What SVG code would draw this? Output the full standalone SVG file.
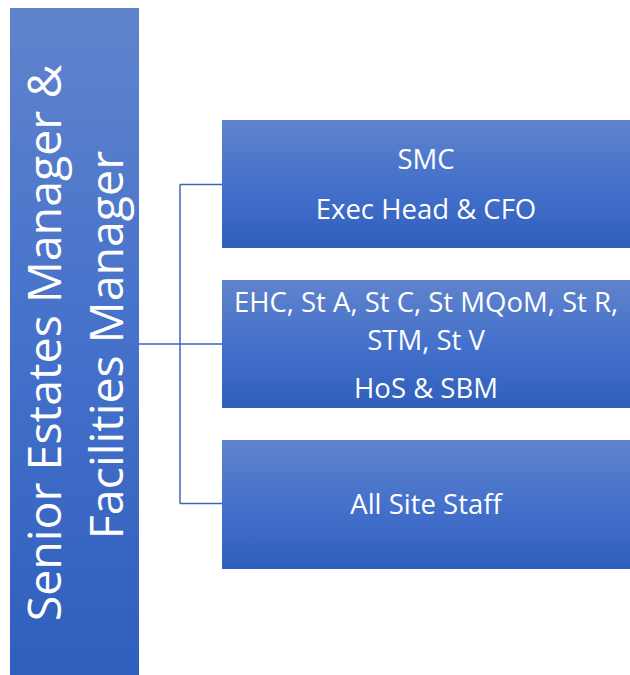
<svg xmlns="http://www.w3.org/2000/svg" width="630" height="675" viewBox="0 0 630 675">
  <defs>
    <linearGradient id="fillBlue" x1="0" y1="0" x2="0" y2="1">
      <stop offset="0" stop-color="#6083cc"/>
      <stop offset="0.5" stop-color="#4571cb"/>
      <stop offset="1" stop-color="#2f5fbc"/>
    </linearGradient>
  </defs>
  <style>
    .box { fill: url(#fillBlue); }
    .lbl { fill: #ffffff; font-family: "Open Sans", "Noto Sans", "DejaVu Sans", sans-serif; font-size: 27.5px; text-anchor: middle; dominant-baseline: central; }
    .big { fill: #ffffff; font-family: "Open Sans", "Noto Sans", "DejaVu Sans", sans-serif; font-size: 46.5px; text-anchor: middle; }
    .link { fill: none; stroke: #3c64b1; stroke-width: 1.5; }
  </style>

  <g id="connectors">
    <path class="link" d="M139 344 H222"/>
    <path class="link" d="M180 184.5 V503.5"/>
    <path class="link" d="M180 184.5 H222"/>
    <path class="link" d="M180 503.5 H222"/>
  </g>

  <g id="senior-manager">
    <rect class="box" x="10" y="8" width="129" height="667"/>
    <text class="big" transform="translate(61 343) rotate(-90)" x="0" y="0">Senior Estates Manager &amp;</text>
    <text class="big" transform="translate(123 345) rotate(-90)" x="0" y="0">Facilities Manager</text>
  </g>

  <g id="smc">
    <rect class="box" x="222" y="120" width="408" height="128"/>
    <text class="lbl" x="426" y="158">SMC</text>
    <text class="lbl" x="426" y="208">Exec Head &amp; CFO</text>
  </g>

  <g id="schools">
    <rect class="box" x="222" y="280" width="408" height="128"/>
    <text class="lbl" x="426" y="301.5">EHC, St A, St C, St MQoM, St R,</text>
    <text class="lbl" x="426" y="339.5">STM, St V</text>
    <text class="lbl" x="426" y="387">HoS &amp; SBM</text>
  </g>

  <g id="site-staff">
    <rect class="box" x="222" y="440" width="408" height="129"/>
    <text class="lbl" x="426" y="503">All Site Staff</text>
  </g>
</svg>
